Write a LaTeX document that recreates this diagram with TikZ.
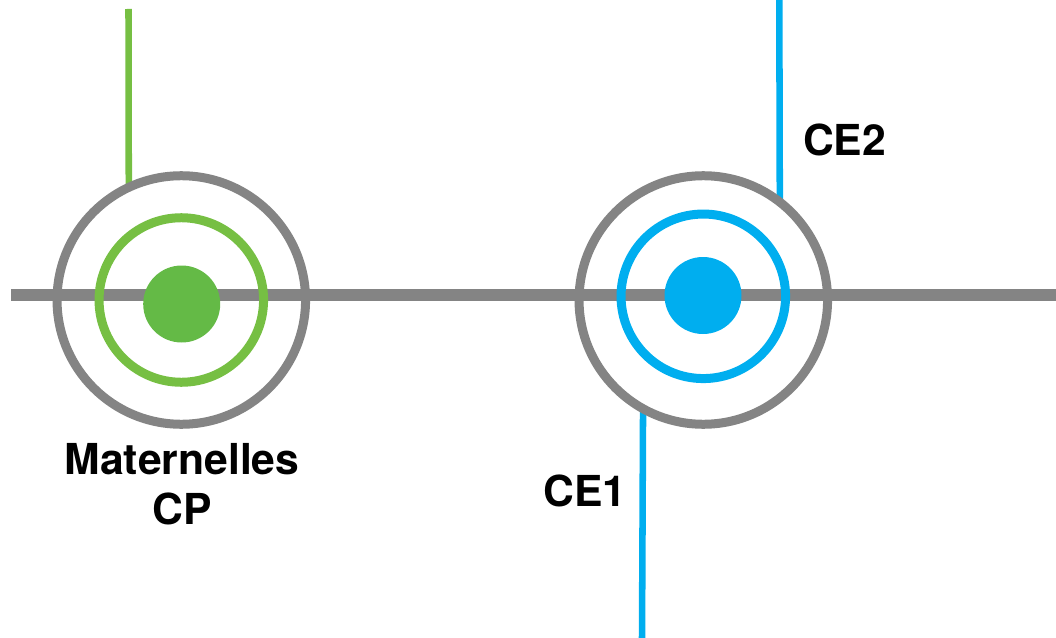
\documentclass[tikz,border=0pt]{standalone}
\usepackage{fontspec}
\usetikzlibrary{backgrounds}
\setmainfont{TeX Gyre Heros}
\definecolor{grayc}{HTML}{848484}
\definecolor{greenc}{HTML}{76BF43}
\definecolor{greend}{HTML}{64BA46}
\definecolor{bluec}{HTML}{00AEEF}
\tikzset{
  px/.style={x=0.75pt,y=-0.75pt},
  ring/.style={circle,draw=#1,line width=6.75pt,fill=none,inner sep=0pt,outer sep=0pt},
  dotn/.style={circle,fill=#1,inner sep=0pt,outer sep=0pt,minimum size=57.75pt},
  conn/.style={draw=#1,line width=4.9pt},
  hline/.style={draw=grayc,line width=8.4pt},
  lab/.style={font=\bfseries\fontsize{32pt}{37.5pt}\selectfont,text=black,align=center,inner sep=0pt}
}
\begin{document}
\begin{tikzpicture}[px]
\useasboundingbox (0,0) rectangle (1056,638);
\coordinate (L) at (11,295);
\coordinate (R) at (1056,295);
\coordinate (gt) at (128.5,9);
\coordinate (bt) at (779.3,0);
\coordinate (bb) at (642,638);
\draw[hline] (L) -- (R);
\node[dotn=greend] (gd) at (181.7,304) {};
\node[dotn=bluec] (bd) at (703,295.5) {};
\node[ring=grayc,minimum size=186.4pt] (g1) at (181.3,300) {};
\node[ring=greenc,minimum size=123.4pt] (g2) at (181.3,300) {};
\node[ring=grayc,minimum size=186.4pt] (b1) at (703.3,300) {};
\node[ring=bluec,minimum size=123.4pt] (b2) at (703.3,296.3) {};
\begin{pgfonlayer}{background}
\draw[conn=greenc] (gt) -- (g1.115.2);
\draw[conn=bluec] (bt) -- (b1.52.3);
\draw[conn=bluec] (bb) -- (b1.241.3);
\end{pgfonlayer}
\node[lab] (ce2) at (844.5,140) {CE2};
\node[lab] (ce1) at (585,491) {CE1};
\node[lab] (m) at (182,484) {Maternelles\\CP};
\end{tikzpicture}
\end{document}
